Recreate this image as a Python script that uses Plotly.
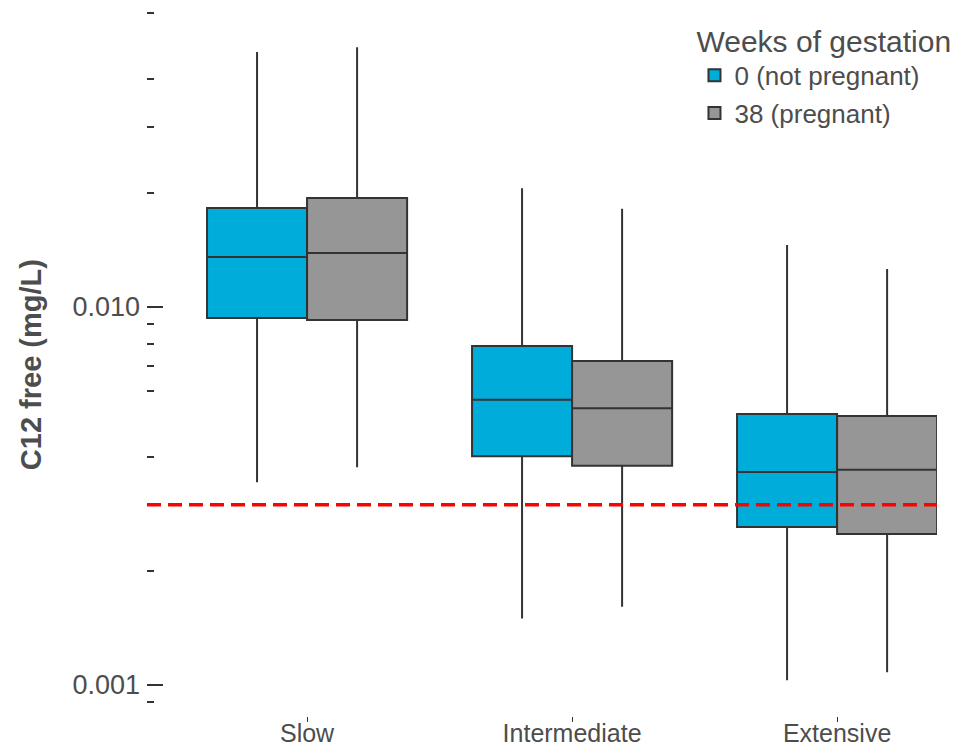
import plotly.graph_objects as go

# Acetylator phenotype groups on the x axis
phenotypes = ["Slow", "Intermediate", "Extensive"]

# Summary statistics of C12 free (mg/L), week 0 (not pregnant)
np_lower = [0.00344, 0.00150, 0.00103]
np_q1 = [0.00935, 0.00403, 0.00262]
np_median = [0.01356, 0.00568, 0.00366]
np_q3 = [0.01827, 0.00788, 0.00521]
np_upper = [0.0473, 0.0206, 0.0146]

# Summary statistics of C12 free (mg/L), week 38 (pregnant)
p_lower = [0.00377, 0.00161, 0.00108]
p_q1 = [0.00924, 0.00380, 0.00251]
p_median = [0.01390, 0.00540, 0.00371]
p_q3 = [0.01943, 0.00720, 0.00515]
p_upper = [0.0487, 0.0182, 0.0126]

# Target concentration threshold
threshold = 0.003

# Axis ticks (log scale)
major_ticks = [0.001, 0.01]
major_labels = ["0.001", "0.010"]
mid_ticks = [0.005, 0.05]
minor_ticks = [0.0009, 0.002, 0.003, 0.004, 0.006, 0.007, 0.008, 0.009,
               0.02, 0.03, 0.04, 0.06]

FONT = "Liberation Sans, Arial, sans-serif"
TEXT = "#4D4D4D"
EDGE = "#333333"

fig = go.Figure()
fig.add_trace(go.Box(
    name="0 (not pregnant)", x=phenotypes, legendgroup="wk0",
    lowerfence=np_lower, q1=np_q1, median=np_median, q3=np_q3, upperfence=np_upper,
    fillcolor="#00ADDA", line=dict(color=EDGE, width=2), whiskerwidth=0,
    boxpoints=False, hoverinfo="y",
))
fig.add_trace(go.Box(
    name="38 (pregnant)", x=phenotypes, legendgroup="wk38",
    lowerfence=p_lower, q1=p_q1, median=p_median, q3=p_q3, upperfence=p_upper,
    fillcolor="#969696", line=dict(color=EDGE, width=2), whiskerwidth=0,
    boxpoints=False, hoverinfo="y",
))

# dashed threshold line across the panel
fig.add_shape(type="line", xref="paper", x0=0, x1=1, yref="y", y0=threshold, y1=threshold,
              line=dict(color="#FF0000", width=3.5, dash="14px,7px"), layer="above")

y_range = [-3.082, -1.1878]

fig.update_layout(
    width=968, height=751,
    margin=dict(l=147, r=31, t=0, b=35),
    paper_bgcolor="white", plot_bgcolor="white",
    boxmode="group", boxgap=0.245, boxgroupgap=0,
    font=dict(family=FONT, color=TEXT),
    showlegend=True,
    legend=dict(
        title=dict(text="Weeks of gestation", font=dict(size=30, color=TEXT, family=FONT)),
        font=dict(size=26, color=TEXT, family=FONT),
        x=0.693, xanchor="left", y=0.982, yanchor="top",
        bgcolor="rgba(0,0,0,0)", tracegroupgap=1,
    ),
    xaxis=dict(
        type="category", range=[-0.604, 2.377], automargin=False,
        showgrid=False, zeroline=False, showline=False,
        ticks="outside", ticklen=5, tickwidth=1, tickcolor=EDGE,
        ticklabelstandoff=-10,
        tickfont=dict(size=25, color=TEXT, family=FONT),
    ),
    yaxis=dict(
        type="log", range=y_range, automargin=False,
        showgrid=False, zeroline=False, showline=False,
        tickmode="array", tickvals=major_ticks, ticktext=major_labels,
        ticks="inside", ticklen=16, tickwidth=1.5, tickcolor=EDGE,
        ticklabelstandoff=6,
        tickfont=dict(size=27, color=TEXT, family=FONT),
        minor=dict(tickmode="array", tickvals=minor_ticks, ticks="inside",
                   ticklen=7, tickwidth=1.5, tickcolor=EDGE, showgrid=False),
    ),
    yaxis2=dict(
        type="log", range=y_range, overlaying="y", side="left", automargin=False,
        showgrid=False, zeroline=False, showline=False, showticklabels=False,
        tickmode="array", tickvals=mid_ticks,
        ticks="inside", ticklen=10, tickwidth=1.5, tickcolor=EDGE,
    ),
)

fig.add_annotation(
    text="<b>C12 free (mg/L)</b>", textangle=-90,
    xref="paper", yref="paper", x=-(147 - 31) / 790, y=0.49,
    xanchor="center", yanchor="middle", showarrow=False,
    font=dict(size=29, color=TEXT, family=FONT),
)

fig.write_html("out.html")
